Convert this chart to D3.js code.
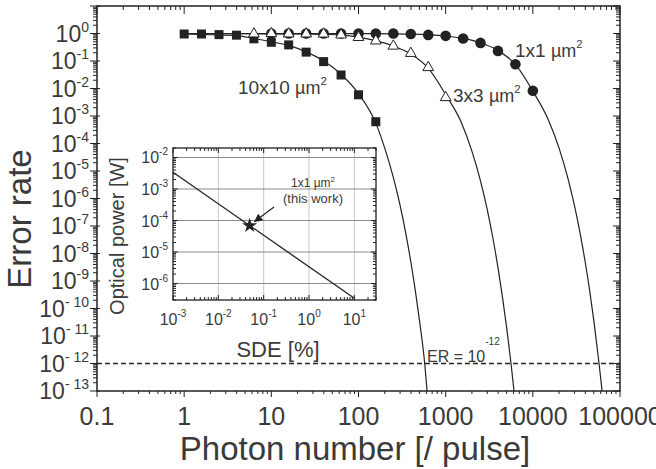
<!DOCTYPE html>
<html><head><meta charset="utf-8">
<script src="https://cdn.jsdelivr.net/npm/d3@7"></script>
<style>body{margin:0;background:#fff}svg{display:block}text{font-family:"Liberation Sans",Arial,sans-serif;fill:#3a3a3a}</style>
</head><body><svg id="c" width="656" height="469"></svg>
<script>
// ---- data ----
const xTickLabels = ["0.1","1","10","100","1000","10000","100000"];
const xTickValues = [0.1,1,10,100,1000,10000,100000];
const yTickExps = [0,-1,-2,-3,-4,-5,-6,-7,-8,-9,-10,-11,-12,-13];

const sqN  = [1,1.58,2.51,3.98,6.31,10,15.8,25.1,39.8,63.1,100,158];
const sqER = [0.96,0.96,0.91,0.87,0.64,0.48,0.385,0.21,0.095,0.031,5.9e-3,6.2e-4];
const triN  = [6.31,10,15.8,25.1,39.8,63.1,100,158,251,398,631,1000];
const triER = [0.97,1.0,0.97,0.97,0.96,0.89,0.72,0.54,0.35,0.19,0.058,4.7e-3];
const cirN  = [10,15.8,25.1,39.8,63.1,100,158,251,398,631,1000,1585,2512,3981,6310,10000];
const cirER = [1.0,1.0,1.0,1.0,1.0,1.0,1.0,1.0,0.96,0.89,0.82,0.66,0.455,0.233,0.076,8.3e-3];

const fit10N  = [1,2,4,6.3,10,15.8,25,40,63,100,158,200,250,300,350,400,450,500,575,612];
const fit10ER = [0.96,0.9,0.84,0.66,0.5,0.37,0.215,0.1,0.033,6.5e-3,5.5e-4,6.8e-5,6.1e-6,5.6e-7,5.1e-8,4.6e-9,4.2e-10,3.8e-11,1e-12,1e-13];
const fit3N  = [1,10,25,40,63,100,158,251,398,631,1000,1500,2000,2500,3000,3500,4000,4500,5000,5620,6080];
const fit3ER = [0.99,0.975,0.96,0.93,0.88,0.74,0.55,0.35,0.18,0.055,6e-3,6.2e-4,5.3e-5,4.6e-6,3.9e-7,3.3e-8,2.8e-9,2.4e-10,2.1e-11,1e-12,1e-13];
const fit1N  = [1,10,100,251,398,631,1000,1585,2512,3981,6310,10000,15000,20000,25000,30000,35000,40000,45000,50000,57500,62300];
const fit1ER = [1.0,0.995,0.985,0.975,0.955,0.9,0.81,0.66,0.46,0.24,0.075,8e-3,7.5e-4,6.8e-5,6.1e-6,5.6e-7,5.1e-8,4.6e-9,4.2e-10,3.8e-11,1e-12,1e-13];
const erLevel = 1e-12;

// inset data
const insetXExps = [-3,-2,-1,0,1];
const insetYExps = [-2,-3,-4,-5,-6];
const insetLineSDE = [0.001,10];
const insetLineP   = [3.4e-3,3.4e-7];
const starSDE = 0.049, starP = 6.9e-5;

// ---- drawing ----
const svg = d3.select("#c");
const X0=97,X1=620,Y0=6,Y1=391;
const x = d3.scaleLog().domain([0.1,1e5]).range([X0,X1]);
const y = d3.scaleLog().domain([1e-13,10]).range([Y1,Y0]);
const ink="#222";

function minorVals(lo,hi){const v=[];for(let e=Math.floor(Math.log10(lo));e<=Math.ceil(Math.log10(hi));e++){for(let m=1;m<10;m++){const t=m*Math.pow(10,e);if(t>=lo*0.999&&t<=hi*1.001)v.push({v:t,major:m===1});}}return v;}

// main ticks
const g=svg.append("g");
const xm=minorVals(0.1,1e5), ym=minorVals(1e-13,10);
xm.forEach(t=>{const px=x(t.v),L=t.major?6:3,Lt=t.major?8:4;
  g.append("line").attr("x1",px).attr("x2",px).attr("y1",Y1).attr("y2",Y1+L).attr("stroke",ink).attr("stroke-width",1);
  g.append("line").attr("x1",px).attr("x2",px).attr("y1",Y0).attr("y2",Y0+Lt).attr("stroke",ink).attr("stroke-width",1);});
ym.forEach(t=>{const py=y(t.v),L=t.major?7:4,Lt=t.major?7:4;
  g.append("line").attr("x1",X0-L).attr("x2",X0+(t.major?3:0)).attr("y1",py).attr("y2",py).attr("stroke",ink).attr("stroke-width",1);
  g.append("line").attr("x1",X1).attr("x2",X1-Lt).attr("y1",py).attr("y2",py).attr("stroke",ink).attr("stroke-width",1);});
g.append("rect").attr("x",X0).attr("y",Y0).attr("width",X1-X0).attr("height",Y1-Y0).attr("fill","none").attr("stroke",ink).attr("stroke-width",1.5);

// x labels
xTickValues.forEach((v,i)=>{g.append("text").attr("x",x(v)).attr("y",425).attr("text-anchor","middle").attr("font-size",25).text(xTickLabels[i]);});
// y labels
yTickExps.forEach(e=>{const t=g.append("text").attr("x",89).attr("y",y(Math.pow(10,e))+8).attr("text-anchor","end").attr("font-size",23);
  t.append("tspan").text("10");t.append("tspan").attr("dy",-10).attr("font-size",14).text(e===0?"0":(e<=-10?"- "+(-e):"-"+(-e)));});

// titles
svg.append("text").attr("transform","translate(31,219) rotate(-90)").attr("text-anchor","middle").attr("font-size",33).text("Error rate");
svg.append("text").attr("x",355).attr("y",460).attr("text-anchor","middle").attr("font-size",33).text("Photon number [/ pulse]");

// dashed ER line
g.append("line").attr("x1",X0).attr("x2",X1).attr("y1",y(erLevel)).attr("y2",y(erLevel)).attr("stroke",ink).attr("stroke-width",1.5).attr("stroke-dasharray","5,3");
const erT=g.append("text").attr("x",427).attr("y",362).attr("font-size",16);
erT.append("tspan").text("ER = 10");erT.append("tspan").attr("dy",-17).attr("font-size",10).text("-12");

// fits
const line=d3.line().x(d=>x(d[0])).y(d=>y(d[1])).curve(d3.curveMonotoneX);
[[fit10N,fit10ER],[fit3N,fit3ER],[fit1N,fit1ER]].forEach(([n,e])=>{
  g.append("path").attr("d",line(n.map((v,i)=>[v,e[i]]))).attr("fill","none").attr("stroke",ink).attr("stroke-width",1.2);});

// symbols
cirN.forEach((n,i)=>g.append("circle").attr("cx",x(n)).attr("cy",y(cirER[i])).attr("r",5.3).attr("fill",ink));
sqN.forEach((n,i)=>g.append("rect").attr("x",x(n)-4.5).attr("y",y(sqER[i])-4.5).attr("width",9).attr("height",9).attr("fill",ink));
const tri=d3.symbol().type(d3.symbolTriangle).size(50);
triN.forEach((n,i)=>g.append("path").attr("d",tri()).attr("transform",`translate(${x(n)},${y(triER[i])})`).attr("fill","#fff").attr("stroke",ink).attr("stroke-width",1));

// series labels
function areaLabel(px,py,size,txt){const t=g.append("text").attr("x",px).attr("y",py).attr("font-size",size);
  t.append("tspan").text(txt+" ");t.append("tspan").attr("font-size",size*0.95).text("\u00B5m");t.append("tspan").attr("dy",-size*0.5).attr("font-size",size*0.6).text("2");}
areaLabel(515,57,19,"1x1");
areaLabel(453,102,19,"3x3");
areaLabel(238,94,19,"10x10");

// ---- inset ----
const IX0=173,IX1=376,IY0=148,IY1=300;
const xi=d3.scaleLog().domain([1e-3,30]).range([IX0,IX1]);
const yi=d3.scaleLog().domain([3e-7,2e-2]).range([IY1,IY0]);
const gi=svg.append("g");
gi.append("rect").attr("x",IX0).attr("y",IY0).attr("width",IX1-IX0).attr("height",IY1-IY0).attr("fill","#fff");
insetXExps.forEach(e=>{const v=Math.pow(10,e);if(e>-3)gi.append("line").attr("x1",xi(v)).attr("x2",xi(v)).attr("y1",IY0).attr("y2",IY1).attr("stroke","#c8c8c8").attr("stroke-width",1);});
insetYExps.forEach(e=>{const v=Math.pow(10,e);gi.append("line").attr("x1",IX0).attr("x2",IX1).attr("y1",yi(v)).attr("y2",yi(v)).attr("stroke","#8a8a8a").attr("stroke-width",1);});
minorVals(1e-3,30).forEach(t=>{const px=xi(t.v),L=t.major?5:3;
  gi.append("line").attr("x1",px).attr("x2",px).attr("y1",IY1).attr("y2",IY1-L).attr("stroke",ink);
  gi.append("line").attr("x1",px).attr("x2",px).attr("y1",IY0).attr("y2",IY0+L).attr("stroke",ink);});
minorVals(3e-7,2e-2).forEach(t=>{const py=yi(t.v),L=t.major?5:3;
  gi.append("line").attr("x1",IX0).attr("x2",IX0+L).attr("y1",py).attr("y2",py).attr("stroke",ink);
  gi.append("line").attr("x1",IX1).attr("x2",IX1-L).attr("y1",py).attr("y2",py).attr("stroke",ink);});
gi.append("rect").attr("x",IX0).attr("y",IY0).attr("width",IX1-IX0).attr("height",IY1-IY0).attr("fill","none").attr("stroke",ink).attr("stroke-width",1.3);
insetXExps.forEach(e=>{const t=gi.append("text").attr("x",xi(Math.pow(10,e))).attr("y",325).attr("text-anchor","middle").attr("font-size",16);
  t.append("tspan").text("10");t.append("tspan").attr("dy",-8).attr("font-size",10).text(e<0?"-"+(-e):String(e));});
insetYExps.forEach(e=>{const t=gi.append("text").attr("x",168).attr("y",yi(Math.pow(10,e))+6).attr("text-anchor","end").attr("font-size",16);
  t.append("tspan").text("10");t.append("tspan").attr("dy",-8).attr("font-size",10).text("-"+(-e));});
svg.append("text").attr("transform","translate(124,236) rotate(-90)").attr("text-anchor","middle").attr("font-size",20).text("Optical power [W]");
svg.append("text").attr("x",278).attr("y",357).attr("text-anchor","middle").attr("font-size",22).text("SDE [%]");
gi.append("path").attr("d",d3.line().x(d=>xi(d[0])).y(d=>yi(d[1]))(insetLineSDE.map((v,i)=>[v,insetLineP[i]]))).attr("stroke",ink).attr("stroke-width",1.3).attr("fill","none");
const star=d3.symbol().type(d3.symbolStar).size(70);
gi.append("path").attr("d",star()).attr("transform",`translate(${xi(starSDE)},${yi(starP)})`).attr("fill",ink);
// annotation
const at=gi.append("text").attr("x",313).attr("y",187).attr("text-anchor","middle").attr("font-size",12);
at.append("tspan").text("1x1 \u00B5m");at.append("tspan").attr("dy",-5).attr("font-size",8).text("2");
gi.append("text").attr("x",313).attr("y",203).attr("text-anchor","middle").attr("font-size",13).text("(this work)");
svg.append("defs").append("marker").attr("id","ah").attr("viewBox","0 0 10 10").attr("refX",9).attr("refY",5).attr("markerWidth",7).attr("markerHeight",7).attr("orient","auto").append("path").attr("d","M0,0L10,5L0,10z").attr("fill",ink);
gi.append("line").attr("x1",274).attr("y1",207).attr("x2",xi(starSDE)+5).attr("y2",yi(starP)-4).attr("stroke",ink).attr("stroke-width",1.2).attr("marker-end","url(#ah)");
</script></body></html>
